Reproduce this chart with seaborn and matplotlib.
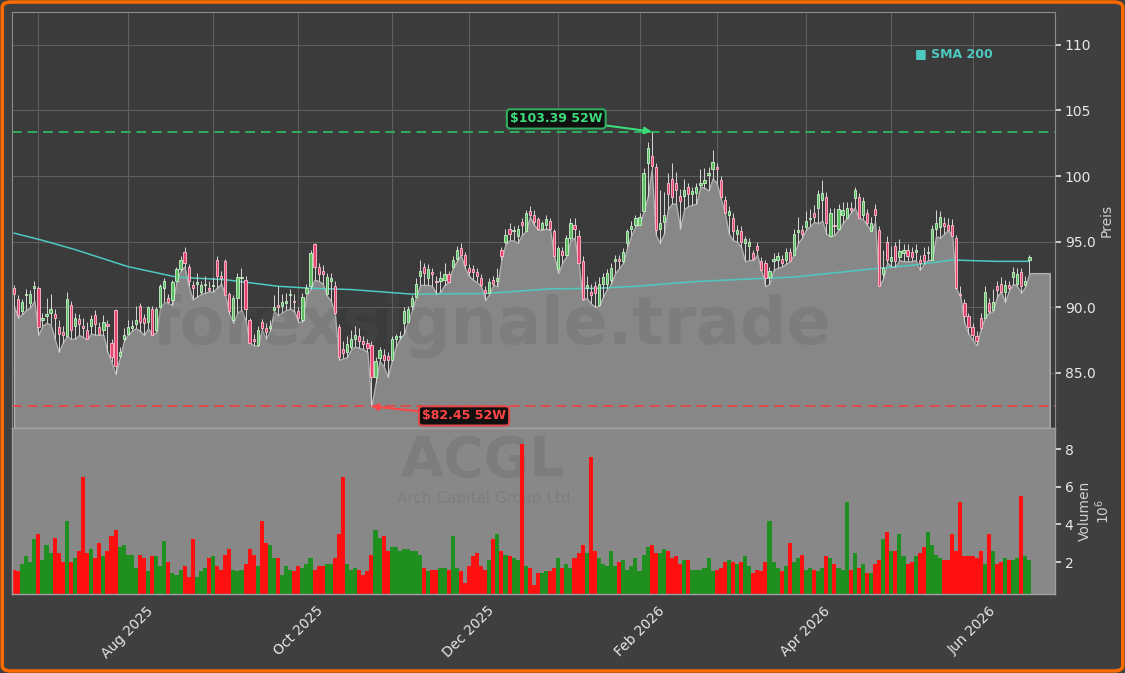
import numpy as np
import pandas as pd
import matplotlib
matplotlib.use("Agg")
import matplotlib.pyplot as plt
import seaborn as sns
from matplotlib.patches import FancyBboxPatch

sns.set_theme(style="dark")
plt.rcParams["font.family"] = ["DejaVu Sans"]

# ---------------- data ----------------
HOLIDAYS = ["2025-07-04", "2025-09-01", "2025-11-27", "2025-12-25", "2026-01-01",
            "2026-01-19", "2026-02-16", "2026-04-03", "2026-05-25", "2026-06-19"]

OPEN = [91.45, 90.6, 89.7, 90.9, 90.3, 91.5, 91.45, 89.0, 89.3, 89.6,
        89.5, 88.5, 88.1, 87.8, 90.2, 88.6, 89.1, 88.6, 88.3, 88.6,
        89.4, 88.5, 88.3, 88.7, 87.3, 89.8, 86.3, 87.6, 88.0, 88.4,
        88.7, 90.1, 89.2, 88.9, 89.9, 88.3, 90.0, 91.45, 90.7, 90.56,
        92.0, 92.9, 94.2, 93.1, 91.7, 91.8, 91.2, 91.7, 91.5, 91.6,
        93.6, 92.4, 93.56, 91.0, 89.0, 90.7, 92.2, 92.1, 89.0, 87.6,
        87.1, 88.9, 88.4, 88.4, 89.8, 90.2, 90.1, 90.3, 90.9, 90.5,
        89.7, 89.0, 91.1, 91.6, 94.8, 93.1, 92.8, 91.0, 92.0, 91.6,
        88.5, 86.8, 86.6, 87.0, 87.6, 87.8, 87.4, 87.3, 87.1, 84.7,
        86.1, 86.4, 86.3, 86.0, 87.6, 87.7, 88.8, 88.9, 90.06, 90.8,
        92.4, 93.1, 92.2, 92.7, 92.0, 92.0, 92.1, 92.5, 93.05, 93.7,
        94.5, 94.0, 93.0, 92.9, 92.7, 92.2, 91.3, 91.1, 92.1, 92.0,
        94.4, 95.0, 96.0, 95.8, 95.4, 96.5, 95.8, 97.3, 97.0, 96.7,
        96.0, 96.3, 96.6, 95.8, 92.9, 94.3, 94.0, 95.3, 96.3, 95.4,
        93.5, 91.5, 91.2, 91.6, 90.2, 91.8, 91.8, 92.1, 93.5, 93.7,
        93.5, 94.9, 96.0, 96.3, 96.3, 97.3, 101.0, 101.5, 100.7, 96.0,
        96.5, 99.5, 99.8, 99.5, 98.5, 98.5, 99.15, 98.6, 98.7, 99.3,
        99.5, 100.1, 100.5, 100.7, 99.7, 98.2, 97.0, 96.8, 95.6, 95.8,
        94.9, 94.7, 94.1, 94.7, 93.5, 93.4, 92.3, 93.5, 93.6, 93.66,
        93.6, 94.2, 94.0, 95.7, 95.85, 96.1, 96.7, 97.2, 97.6, 98.2,
        98.4, 95.4, 96.3, 96.0, 97.0, 96.8, 97.55, 98.3, 98.4, 97.0,
        97.2, 95.8, 97.5, 95.9, 92.5, 95.0, 93.5, 94.7, 93.8, 94.1,
        94.4, 94.2, 94.2, 93.6, 94.0, 94.1, 93.6, 96.0, 96.1, 96.4,
        96.3, 96.3, 95.3, 91.0, 90.3, 89.3, 88.5, 87.8, 89.2, 89.2,
        90.3, 89.8, 91.6, 91.8, 91.2, 91.7, 92.3, 91.8, 92.7, 91.7,
        93.6]

HIGH = [91.7, 90.9, 90.6, 91.4, 91.3, 92.0, 91.6, 89.6, 90.7, 91.0,
        89.9, 89.0, 88.6, 91.2, 90.5, 89.6, 89.5, 89.2, 88.9, 89.4,
        89.8, 88.9, 89.4, 89.0, 87.6, 89.9, 87.0, 88.4, 89.0, 89.0,
        90.1, 90.3, 89.5, 90.1, 90.1, 90.0, 91.8, 92.2, 91.0, 92.1,
        93.1, 93.9, 94.6, 93.3, 92.0, 92.6, 92.0, 92.4, 92.0, 92.3,
        93.9, 92.8, 93.7, 91.2, 90.9, 92.6, 93.0, 92.4, 89.2, 88.0,
        88.6, 89.1, 88.8, 89.0, 90.9, 91.6, 91.0, 91.1, 91.4, 91.0,
        90.0, 91.1, 91.8, 94.4, 94.9, 93.4, 93.2, 92.6, 92.6, 92.0,
        88.7, 87.4, 87.8, 88.3, 88.6, 88.4, 87.8, 87.6, 87.4, 86.2,
        87.0, 86.8, 86.6, 87.8, 88.0, 88.2, 90.0, 90.1, 90.9, 92.2,
        93.6, 93.4, 93.3, 93.0, 92.4, 92.8, 93.4, 92.8, 93.9, 94.7,
        94.9, 94.2, 93.3, 93.2, 93.0, 92.5, 91.6, 92.2, 92.4, 93.0,
        94.6, 96.0, 96.4, 96.2, 96.3, 96.8, 97.4, 97.7, 97.4, 96.9,
        96.6, 97.0, 96.8, 96.0, 94.7, 94.6, 95.5, 96.8, 96.8, 95.9,
        93.9, 92.4, 91.8, 92.0, 92.3, 92.6, 92.9, 93.4, 94.0, 94.0,
        94.5, 96.0, 96.6, 97.0, 97.2, 100.6, 102.6, 103.39, 101.0, 98.9,
        98.8, 100.2, 101.0, 100.3, 99.0, 99.8, 99.5, 99.2, 99.5, 100.5,
        100.6, 100.7, 101.95, 101.0, 100.0, 98.5, 97.7, 97.2, 96.3, 96.2,
        95.4, 95.3, 94.4, 95.0, 93.8, 93.6, 93.1, 94.1, 94.2, 94.0,
        94.5, 94.5, 96.0, 96.9, 96.3, 97.3, 97.5, 97.8, 98.9, 99.7,
        98.8, 97.6, 97.6, 97.9, 98.0, 98.0, 98.0, 99.2, 98.7, 98.4,
        97.5, 96.9, 97.9, 96.2, 94.4, 95.4, 94.7, 95.0, 95.2, 94.8,
        94.8, 94.6, 94.8, 94.0, 94.6, 94.7, 96.3, 97.4, 97.3, 96.9,
        96.8, 96.7, 95.5, 91.6, 90.6, 89.6, 88.8, 88.2, 89.6, 91.6,
        90.7, 91.4, 92.0, 92.3, 92.1, 92.0, 93.1, 93.0, 93.0, 92.4,
        94.0]

LOW = [90.1, 89.2, 89.5, 89.8, 90.0, 90.5, 87.9, 88.6, 88.8, 88.7,
       87.6, 86.6, 87.3, 87.8, 87.6, 87.6, 87.9, 87.7, 87.6, 88.0,
       87.9, 87.9, 87.9, 86.6, 85.8, 84.9, 86.1, 87.4, 87.9, 88.2,
       88.4, 88.2, 87.9, 88.4, 87.9, 88.1, 90.0, 90.4, 90.3, 90.2,
       92.0, 92.8, 93.1, 91.6, 90.6, 90.8, 91.0, 91.1, 91.2, 91.2,
       91.5, 91.8, 90.9, 89.5, 88.8, 89.6, 89.8, 89.0, 87.3, 87.1,
       87.06, 88.3, 87.6, 88.2, 89.7, 89.4, 89.6, 89.8, 89.9, 89.7,
       88.9, 88.9, 91.0, 91.4, 92.1, 92.0, 91.8, 90.9, 90.5, 89.5,
       86.0, 86.1, 86.2, 86.8, 87.0, 86.9, 86.8, 86.6, 82.45, 84.2,
       85.9, 85.5, 84.7, 85.9, 87.0, 87.6, 88.0, 88.9, 89.8, 90.8,
       91.7, 91.7, 91.7, 91.6, 91.0, 91.2, 91.7, 91.9, 93.0, 93.5,
       94.0, 93.0, 92.4, 92.1, 91.9, 91.6, 90.56, 91.0, 91.7, 91.6,
       93.6, 94.8, 95.1, 95.1, 94.9, 95.5, 95.8, 96.9, 96.3, 95.9,
       95.9, 96.0, 95.9, 93.9, 92.6, 93.4, 93.9, 95.1, 95.3, 93.4,
       90.56, 90.7, 90.3, 90.05, 90.1, 90.8, 91.4, 91.8, 92.6, 93.0,
       93.4, 94.6, 95.5, 96.2, 96.3, 97.3, 98.4, 100.5, 95.5, 94.9,
       95.6, 97.5, 97.9, 97.9, 96.0, 97.5, 97.7, 97.8, 97.9, 99.2,
       99.1, 98.9, 99.8, 99.5, 98.3, 97.2, 95.6, 95.1, 95.0, 94.6,
       93.5, 93.6, 93.6, 94.0, 92.8, 91.6, 91.8, 92.85, 93.0, 93.1,
       93.3, 93.5, 94.0, 94.9, 95.3, 95.9, 96.2, 96.5, 96.4, 96.6,
       95.6, 95.4, 95.5, 95.9, 96.4, 96.8, 97.2, 97.6, 96.8, 96.7,
       96.3, 95.8, 96.5, 91.6, 92.2, 93.4, 93.1, 93.1, 93.6, 93.5,
       93.5, 93.5, 93.6, 92.85, 93.3, 93.6, 93.6, 95.4, 95.3, 95.6,
       95.9, 95.4, 91.4, 90.8, 88.8, 88.0, 87.5, 87.1, 88.3, 89.2,
       89.6, 89.7, 90.8, 91.2, 90.4, 91.3, 91.8, 91.6, 91.1, 91.6,
       92.6]

CLOSE = [91.0, 89.4, 90.4, 91.0, 91.0, 91.6, 88.5, 89.2, 89.5, 89.9,
         89.2, 88.0, 87.85, 90.6, 88.3, 89.2, 88.7, 88.4, 87.6, 89.1,
         88.7, 88.0, 88.9, 88.6, 86.2, 85.5, 86.6, 87.9, 88.5, 88.6,
         89.0, 88.9, 88.8, 90.0, 87.9, 89.9, 91.6, 92.0, 90.4, 91.96,
         92.9, 93.6, 93.4, 92.0, 91.5, 91.9, 91.7, 91.8, 91.3, 91.7,
         92.4, 92.2, 90.9, 89.7, 90.7, 92.3, 92.3, 89.9, 87.3, 87.4,
         88.3, 88.4, 88.1, 88.6, 90.0, 90.0, 90.4, 90.5, 91.0, 90.4,
         89.2, 90.8, 91.5, 94.1, 93.1, 92.5, 92.5, 92.3, 92.2, 89.6,
         86.2, 86.5, 87.2, 87.6, 87.9, 87.4, 87.2, 86.9, 84.7, 85.9,
         86.75, 86.0, 86.0, 87.6, 87.8, 87.8, 89.7, 89.9, 90.7, 91.8,
         92.8, 92.6, 92.9, 92.5, 91.9, 92.2, 92.5, 91.96, 93.6, 94.4,
         94.0, 93.2, 92.7, 92.7, 92.4, 91.7, 91.1, 91.96, 91.8, 92.2,
         93.9, 95.5, 95.6, 95.9, 96.0, 96.3, 97.2, 97.0, 96.5, 96.0,
         96.4, 96.7, 95.95, 93.9, 94.5, 94.0, 95.3, 96.4, 96.0, 93.4,
         90.6, 91.7, 90.9, 91.1, 91.8, 92.3, 92.6, 93.0, 93.7, 93.5,
         94.2, 95.8, 96.2, 96.8, 96.9, 100.2, 102.1, 100.8, 95.9, 96.4,
         97.0, 98.6, 98.4, 98.95, 98.06, 98.9, 98.6, 98.85, 99.2, 99.5,
         99.7, 100.2, 101.1, 100.5, 98.4, 97.2, 97.3, 95.8, 95.9, 95.0,
         95.2, 95.0, 93.7, 94.4, 92.85, 92.2, 92.8, 93.7, 93.9, 93.36,
         94.2, 93.5, 95.6, 95.9, 95.6, 96.6, 96.8, 96.9, 98.6, 98.7,
         96.4, 97.2, 96.2, 97.5, 97.4, 97.6, 97.4, 98.9, 96.8, 98.1,
         96.4, 96.4, 97.0, 91.6, 93.0, 93.6, 93.8, 93.5, 94.3, 94.4,
         93.9, 93.8, 94.4, 93.4, 93.5, 94.2, 95.95, 96.4, 96.9, 96.2,
         95.9, 95.4, 91.45, 90.9, 89.3, 88.5, 87.9, 87.4, 88.4, 91.2,
         89.7, 90.4, 91.3, 91.2, 91.7, 91.5, 92.7, 92.5, 91.6, 92.0,
         93.8]

VOLUME_M = [1.57, 1.5, 1.9, 2.3, 2.0, 3.2, 3.5, 2.1, 2.9, 2.5,
            3.3, 2.5, 2.0, 4.2, 2.0, 2.2, 2.6, 6.5, 2.5, 2.7,
            2.2, 3.0, 2.3, 2.6, 3.4, 3.7, 2.8, 2.9, 2.4, 2.4,
            1.7, 2.4, 2.2, 1.5, 2.3, 2.3, 1.8, 3.1, 2.0, 1.4,
            1.3, 1.6, 1.8, 1.2, 3.2, 1.2, 1.5, 1.7, 2.2, 2.3,
            1.8, 1.6, 2.4, 2.7, 1.6, 1.5, 1.6, 1.9, 2.7, 2.4,
            1.8, 4.2, 3.0, 2.9, 2.2, 2.2, 1.3, 1.8, 1.6, 1.5,
            1.8, 1.7, 1.9, 2.2, 1.6, 1.8, 1.8, 1.9, 1.9, 2.2,
            3.5, 6.5, 1.9, 1.6, 1.7, 1.6, 1.3, 1.5, 2.4, 3.7,
            3.3, 3.4, 2.6, 2.8, 2.8, 2.6, 2.7, 2.7, 2.6, 2.6,
            2.4, 1.7, 1.5, 1.6, 1.6, 1.7, 1.7, 1.6, 3.4, 1.7,
            1.5, 0.9, 1.8, 2.3, 2.5, 1.8, 1.6, 2.1, 3.2, 3.5,
            2.6, 2.4, 2.3, 2.2, 2.1, 8.3, 1.8, 1.7, 0.8, 1.4,
            1.4, 1.5, 1.5, 1.7, 2.2, 1.7, 1.9, 1.7, 2.2, 2.5,
            2.9, 2.5, 7.6, 2.6, 2.2, 1.9, 1.8, 2.6, 1.8, 2.0,
            2.1, 1.6, 1.8, 2.2, 1.5, 2.4, 2.8, 2.9, 2.5, 2.5,
            2.7, 2.6, 2.2, 2.3, 1.9, 2.1, 2.1, 1.6, 1.6, 1.6,
            1.7, 2.2, 1.5, 1.6, 1.7, 2.0, 2.1, 2.0, 1.9, 2.0,
            2.3, 1.8, 1.4, 1.6, 1.5, 2.0, 4.2, 2.0, 1.7, 1.5,
            1.8, 3.0, 2.0, 2.2, 2.4, 1.6, 1.7, 1.6, 1.5, 1.7,
            2.3, 2.2, 1.9, 1.7, 1.6, 5.2, 1.6, 2.5, 1.7, 1.9,
            1.4, 1.4, 1.9, 2.1, 3.2, 3.6, 2.6, 2.6, 3.5, 2.3,
            1.9, 2.0, 2.3, 2.5, 2.8, 3.6, 2.9, 2.4, 2.2, 2.1,
            2.1, 3.5, 2.6, 5.2, 2.3, 2.3, 2.3, 2.2, 2.6, 1.9,
            3.5, 2.6, 1.9, 2.0, 2.2, 2.1, 2.1, 2.2, 5.5, 2.3,
            2.1]

SMA_BAR = [0, 7, 15, 24, 28, 40, 52, 65, 73, 83, 98, 116, 132, 144, 153,
           168, 184, 192, 209, 221, 231, 242, 250]
SMA_VAL = [95.65, 95.1, 94.4, 93.5, 93.1, 92.3, 92.1, 91.6, 91.45, 91.35, 91.0,
           91.05, 91.4, 91.45, 91.6, 91.96, 92.2, 92.3, 92.85, 93.2, 93.6, 93.5, 93.5]

PRICE_TICKS = [85, 90, 95, 100, 105, 110]
PRICE_TICK_LABELS = ["85.0", "90.0", "95.0", "100", "105", "110"]
VOL_TICKS = [2, 4, 6, 8]
TICKER = "ACGL"
COMPANY = "Arch Capital Group Ltd"
WATERMARK = "forexsignale.trade"

# ---------------- derived ----------------
dates = pd.bdate_range("2025-06-23", "2026-06-22")
dates = dates[~dates.isin(pd.to_datetime(HOLIDAYS))]
n = min(len(dates), len(OPEN), len(HIGH), len(LOW), len(CLOSE), len(VOLUME_M))
dates = dates[:n]
o = np.array(OPEN[:n]); h = np.array(HIGH[:n]); l = np.array(LOW[:n]); c = np.array(CLOSE[:n])
v = np.array(VOLUME_M[:n])
idx = np.arange(n)
up = c >= o
HI52 = h.max(); LO52 = l.min()
hi_i = int(h.argmax()); lo_i = int(l.argmin())

# ---------------- style ----------------
FIG_BG = "#3f3f3f"
AX_BG = "#3b3b3b"
FILL = "#878787"
UP_FACE, UP_EDGE = "#5cbf60", "#c9f5cc"
DN_FACE, DN_EDGE = "#e8436e", "#ffc0cf"
VOL_UP, VOL_DN = "#1f8f1f", "#ff1010"
SMA_COL = "#4ec9c0"
TXT = "#e8e8e8"

fig = plt.figure(figsize=(11.25, 6.73), dpi=100, facecolor=FIG_BG)
W, H = 1125.0, 673.0
ax = fig.add_axes([12 / W, 1 - 428 / H, (1055 - 12) / W, (428 - 12) / H])
ax2 = fig.add_axes([12 / W, 1 - 594 / H, (1055 - 12) / W, (594 - 428) / H])

ax.set_facecolor(AX_BG)
ax2.set_facecolor("#888888")

YLO, YHI = 80.8, 112.5
EXTEND = 5
xlim = (-0.5, n - 1 + 6.3)

# area under lows (extended a few bars to the right)
x_ext = np.append(idx, idx[-1] + EXTEND)
l_ext = np.append(l, l[-1])
ax.fill_between(x_ext, l_ext, YLO, color=FILL, edgecolor="#b0b0b0", linewidth=1.0, zorder=1)

# watermark
ax.text(0.46, 0.245, WATERMARK, transform=ax.transAxes, fontsize=47, fontweight="bold",
        color="#555555", alpha=0.2, ha="center", va="center", zorder=1.5)

# SMA
sns.lineplot(x=SMA_BAR, y=SMA_VAL, ax=ax, color=SMA_COL, linewidth=1.1, zorder=2)

# candles
ax.vlines(idx, l, h, color="#d6d6d6", linewidth=0.7, zorder=3)
body_lo = np.minimum(o, c)
body_h = np.maximum(np.abs(c - o), 0.08)
ax.bar(idx, body_h, bottom=body_lo, width=0.55,
       color=np.where(up, UP_FACE, DN_FACE), edgecolor=np.where(up, UP_EDGE, DN_EDGE),
       linewidth=0.6, zorder=4)

# 52W lines
ax.axhline(HI52, color="#2fae5f", linestyle=(0, (5, 3)), linewidth=1.4, zorder=2.5)
ax.axhline(LO52, color="#e04a4a", linestyle=(0, (5, 3)), linewidth=1.4, zorder=2.5)
ax.annotate(f"\\${HI52:.2f} 52W", xy=(hi_i, HI52), xytext=(133.5, 104.35),
            color="#3ddc7a", fontsize=9, fontweight="bold", ha="center", va="center",
            bbox=dict(boxstyle="round,pad=0.25", fc="#101010", ec="#2fae5f", lw=1.5),
            arrowprops=dict(arrowstyle="-|>", color="#3ddc7a", lw=1.5, shrinkA=0, shrinkB=0,
                            mutation_scale=10),
            zorder=6)
ax.annotate(f"\\${LO52:.2f} 52W", xy=(lo_i, LO52), xytext=(110.8, 81.72),
            color="#ff4545", fontsize=9, fontweight="bold", ha="center", va="center",
            bbox=dict(boxstyle="round,pad=0.25", fc="#101010", ec="#e04a4a", lw=1.5),
            arrowprops=dict(arrowstyle="-|>", color="#ff4545", lw=1.5, shrinkA=0, shrinkB=0,
                            mutation_scale=10),
            zorder=6)

# volume bars via seaborn
vol_df = pd.DataFrame({"bar": idx, "vol": v, "dir": np.where(up, "up", "down")})
sns.barplot(data=vol_df, x="bar", y="vol", hue="dir", palette={"up": VOL_UP, "down": VOL_DN},
            dodge=False, width=1.0, saturation=1, linewidth=0, legend=False, ax=ax2, zorder=2)
ax2.text(0.452, 0.8, TICKER, transform=ax2.transAxes, fontsize=40, fontweight="bold",
         color="#555555", alpha=0.2, ha="center", va="center", zorder=0)
ax2.text(0.452, 0.575, COMPANY, transform=ax2.transAxes, fontsize=11,
         color="#555555", alpha=0.2, ha="center", va="center", zorder=0)

# month ticks
month_idx = [i for i in range(1, n) if dates[i].month != dates[i - 1].month]
month_lbl = [dates[i].strftime("%b %Y") if dates[i].month % 2 == 0 else "" for i in month_idx]

for a in (ax, ax2):
    a.set_xlim(*xlim)
    a.set_xticks(month_idx)
ax2.set_xticklabels(month_lbl, rotation=45, ha="center", fontsize=10, color=TXT)
ax.set_xticklabels([])
ax.tick_params(axis="x", length=0)
ax2.tick_params(axis="x", direction="out", length=4, width=1, color="#dddddd", pad=3)
ax2.set_xlabel("")

# y axes
ax.set_ylim(YLO, YHI)
ax.set_yticks(PRICE_TICKS)
ax.set_yticklabels(PRICE_TICK_LABELS)
ax.yaxis.tick_right()
ax.yaxis.set_label_position("right")
ax.set_ylabel("Preis", color="#cfcfcf", fontsize=10, labelpad=3)
ax.tick_params(axis="y", direction="out", length=4, color="#dddddd", labelsize=10,
               labelcolor=TXT, pad=3)

ax2.set_ylim(0.3, v.max() * 1.1)
ax2.set_yticks(VOL_TICKS)
ax2.yaxis.tick_right()
ax2.yaxis.set_label_position("right")
ax2.set_ylabel("Volumen\n$10^{6}$", color="#cfcfcf", fontsize=10, labelpad=3,
               linespacing=1.1)
ax2.tick_params(axis="y", direction="out", length=4, color="#dddddd", labelsize=10,
                labelcolor=TXT, pad=3)

ax.grid(True, color="#5e5e5e", linewidth=0.8)
ax.set_axisbelow(True)
ax2.grid(False)
for s in ax.spines.values():
    s.set_color("#8c8c8c"); s.set_linewidth(0.8)
for s in ax2.spines.values():
    s.set_color("#a0a0a0"); s.set_linewidth(1.0)

# legend
fig.text(915 / W, 1 - 54 / H, "\u25A0 SMA 200", color=SMA_COL, fontsize=9,
         fontweight="bold", ha="left", va="center")

# orange frame
fig.patches.append(FancyBboxPatch((0.002, 0.003), 0.996, 0.994,
                                  boxstyle="round,pad=0,rounding_size=0.008",
                                  transform=fig.transFigure, fill=False,
                                  edgecolor="#ff6a00", linewidth=2.5))

fig.savefig("out.png", dpi=100, facecolor=FIG_BG)
